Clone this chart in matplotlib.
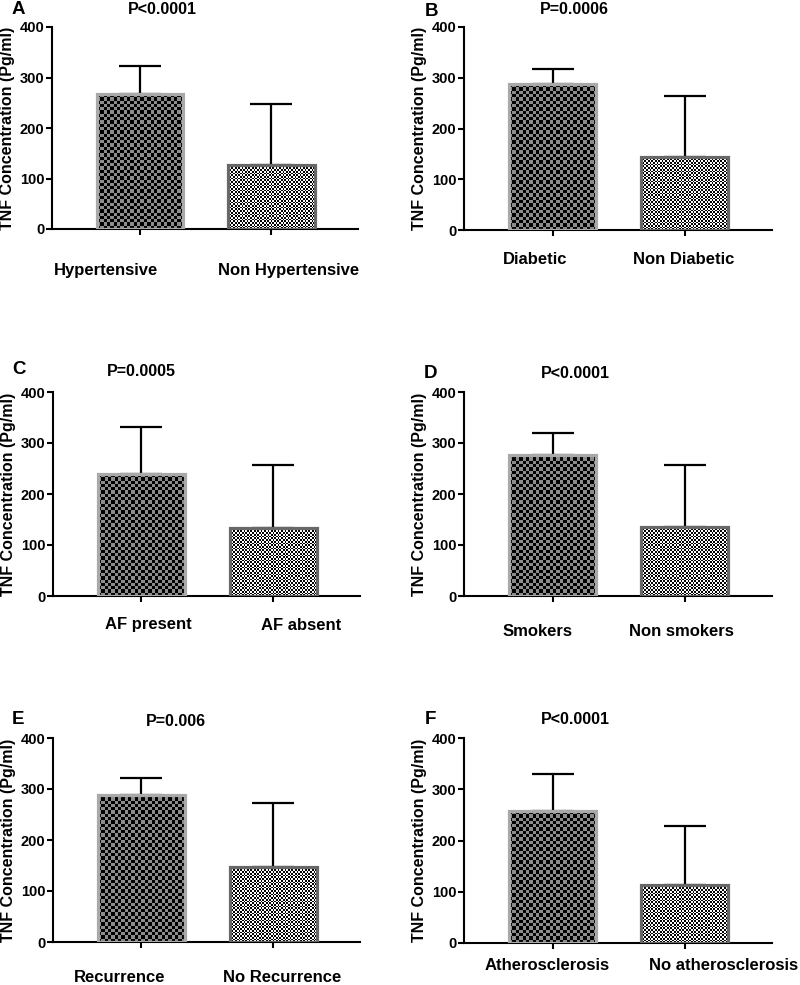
import numpy as np
import matplotlib
matplotlib.use('Agg')
import matplotlib.pyplot as plt
from matplotlib.colors import ListedColormap

plt.rcParams['font.family'] = ['Liberation Sans', 'DejaVu Sans']
plt.rcParams['font.weight'] = 'bold'

# data (mean and upper SD per group)
panel_letters = ['A', 'B', 'C', 'D', 'E', 'F']
p_values = ['P<0.0001', 'P=0.0006', 'P=0.0005', 'P<0.0001', 'P=0.006', 'P<0.0001']
group_labels = [
    ['Hypertensive', 'Non Hypertensive'],
    ['Diabetic', 'Non Diabetic'],
    ['AF present', 'AF absent'],
    ['Smokers', 'Non smokers'],
    ['Recurrence', 'No Recurrence'],
    ['Atherosclerosis', 'No atherosclerosis'],
]
means = [[267, 127], [287, 143], [239, 134], [277, 135], [289, 148], [257, 114]]
sds = [[55, 121], [30, 121], [92, 123], [42, 122], [33, 124], [73, 115]]
y_ticks = [0, 100, 200, 300, 400]
y_label = 'TNF Concentration (Pg/ml)'

W, H = 800, 985
# axes boxes in pixels: left, top, right, bottom
boxes = [(52, 27, 358, 229), (464, 27, 772, 230),
         (53, 392, 360, 596), (464, 392, 772, 596),
         (53, 738, 360, 942), (464, 738, 772, 943)]
letter_pos = [(18, 10), (432, 12), (19, 370), (431, 373), (18, 720), (430, 720)]
p_pos = [(162, 10), (574, 10), (141, 371), (575, 373), (176, 722), (575, 720)]
# category label placement: horizontal shift from tick, drop below axis (px)
label_dx = [(-34, 17), (-17, -1), (7, 28), (-15, -3), (-22, 9), (-5, 39)]
label_dy = [41, 30, 29, 36, 36, 22]

bar_styles = [
    dict(edge='#a9a9a9', colors=['#000000', '#8c8c8c'], cell=3.3),
    dict(edge='#686868', colors=['#000000', '#ffffff'], cell=1.7),
]

fig = plt.figure(figsize=(W / 100, H / 100), dpi=100)
pt = 0.72  # points per pixel at dpi 100

for i in range(6):
    l, t, r, b = boxes[i]
    ax = fig.add_axes([l / W, 1 - b / H, (r - l) / W, (b - t) / H])
    x = np.arange(2)
    width = 0.66
    bars = ax.bar(x, means[i], width=width, facecolor='none', zorder=3)
    ax.set_xlim(-0.67, 1.66)
    ax.set_ylim(0, 400)
    px_per_x = (r - l) / 2.33
    px_per_y = (b - t) / 400
    for j, bar in enumerate(bars):
        st = bar_styles[j]
        bar.set_edgecolor(st['edge'])
        bar.set_linewidth(2.3)
        x0 = bar.get_x()
        h = bar.get_height()
        nx = max(1, int(round(width * px_per_x / st['cell'])))
        ny = max(1, int(round(h * px_per_y / st['cell'])))
        checker = np.add.outer(np.arange(ny), np.arange(nx)) % 2
        im = ax.imshow(checker, cmap=ListedColormap(st['colors']),
                       extent=(x0, x0 + width, 0, h), aspect='auto',
                       interpolation='nearest', zorder=2)
        im.set_clip_path(bar)
        # drawn under the bar so the lower cap stays hidden
        ax.errorbar(x[j], means[i][j], yerr=[[0], [sds[i][j]]], color='black',
                    elinewidth=1.6, capsize=15, capthick=1.6, zorder=1.5)
        ax.annotate(group_labels[i][j], xy=(x[j], 0),
                    xycoords=('data', 'axes fraction'),
                    xytext=(label_dx[i][j] * pt, -label_dy[i] * pt),
                    textcoords='offset points', ha='center', va='center',
                    fontsize=12, fontweight='bold', annotation_clip=False)
    ax.set_xlim(-0.67, 1.66)
    ax.set_ylim(0, 400)
    ax.set_yticks(y_ticks)
    ax.set_xticks(x)
    ax.set_xticklabels([])
    ax.tick_params(axis='y', labelsize=10.5, width=1.5, length=4, pad=1.5)
    ax.tick_params(axis='x', width=1.5, length=4.5)
    for lab in ax.get_yticklabels():
        lab.set_fontweight('bold')
    ax.set_ylabel(y_label, fontsize=11.5, fontweight='bold', labelpad=3)
    for s in ['top', 'right']:
        ax.spines[s].set_visible(False)
    for s in ['left', 'bottom']:
        ax.spines[s].set_linewidth(1.5)

    lx, ly = letter_pos[i]
    fig.text(lx / W, 1 - ly / H, panel_letters[i], fontsize=13.5,
             fontweight='bold', ha='center', va='center')
    px, py = p_pos[i]
    fig.text(px / W, 1 - py / H, p_values[i], fontsize=11.5,
             fontweight='bold', ha='center', va='center')

fig.savefig('out.png', dpi=100)
